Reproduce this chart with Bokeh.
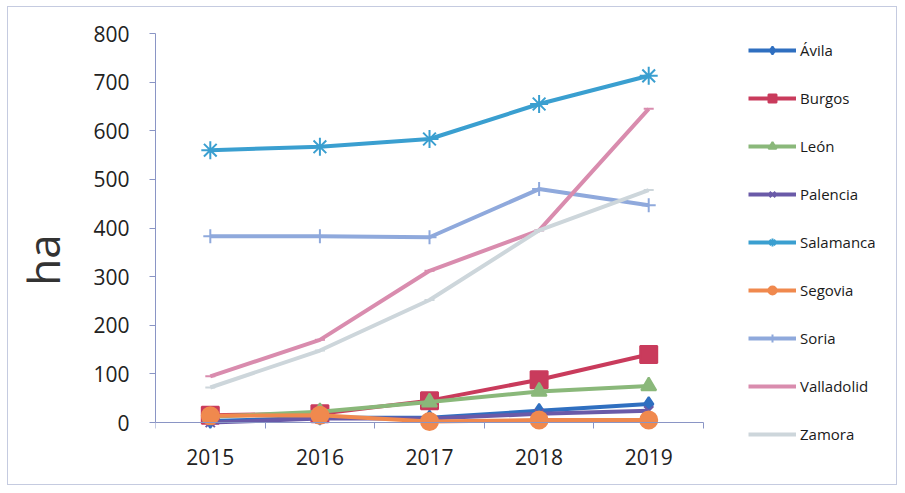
from bokeh.plotting import figure
from bokeh.models import Legend, LegendItem, FixedTicker
from bokeh.embed import file_html
from bokeh.resources import INLINE

years = ["2015", "2016", "2017", "2018", "2019"]
provinces = ["Ávila", "Burgos", "León", "Palencia", "Salamanca",
             "Segovia", "Soria", "Valladolid", "Zamora"]
avila = [3, 10, 10, 24, 38]
burgos = [15, 18, 45, 88, 140]
leon = [12, 22, 42, 64, 75]
palencia = [0, 8, 8, 18, 24]
salamanca = [560, 567, 583, 655, 713]
segovia = [14, 15, 2, 5, 5]
soria = [383, 383, 381, 480, 447]
valladolid = [95, 170, 312, 395, 645]
zamora = [72, 148, 252, 395, 478]
series = [avila, burgos, leon, palencia, salamanca, segovia, soria, valladolid, zamora]

colors = ["#2f6fc0", "#c93b5c", "#8ab87a", "#6a5aa8", "#3a9fd0",
          "#f0894e", "#8fa9dc", "#d98cae", "#cdd6db"]
markers = ["diamond", "square", "triangle", "x", "asterisk",
           "circle", "cross", "dash", "dash"]
msizes = [14, 17, 15, 13, 18, 17, 14, 10, 10]

xs = [i + 1 for i in range(len(years))]

p = figure(width=890, height=479, x_range=(0.5, 7.279), y_range=(-131.6, 800),
           output_backend="svg", toolbar_location=None,
           min_border_left=147, min_border_right=0,
           min_border_top=26, min_border_bottom=0)
p.xgrid.visible = False
p.ygrid.visible = False
p.outline_line_color = None
p.background_fill_color = "white"
p.border_fill_color = "white"

FONT = "Open Sans"
AX = "#8a95c5"

p.xaxis.fixed_location = 0
p.xaxis.bounds = (0.5, 5.5)
p.xaxis.ticker = FixedTicker(ticks=xs, minor_ticks=[x - 0.5 for x in xs] + [xs[-1] + 0.5])
p.xaxis.major_label_overrides = {x: y for x, y in zip(xs, years)}
p.xaxis.major_tick_out = 0
p.xaxis.major_tick_in = 0
p.xaxis.minor_tick_out = 6
p.xaxis.minor_tick_in = 0
p.xaxis.minor_tick_line_color = AX
p.xaxis.axis_line_color = AX
p.xaxis.major_label_standoff = 20

p.yaxis.bounds = (0, 800)
p.yaxis.ticker = FixedTicker(ticks=list(range(0, 801, 100)))
p.yaxis.major_tick_out = 6
p.yaxis.major_tick_in = 0
p.yaxis.minor_tick_line_color = None
p.yaxis.major_tick_line_color = AX
p.yaxis.axis_line_color = AX
p.yaxis.major_label_standoff = 20
p.yaxis.axis_label = "ha"
p.yaxis.axis_label_text_font = FONT
p.yaxis.axis_label_text_font_size = "44px"
p.yaxis.axis_label_text_font_style = "normal"
p.yaxis.axis_label_text_color = "#333333"
p.yaxis.axis_label_standoff = 17

for ax in (p.xaxis, p.yaxis):
    ax.major_label_text_font = FONT
    ax.major_label_text_font_size = "21px"
    ax.major_label_text_color = "#222222"

items = []
for name, vals, c, m, s in zip(provinces, series, colors, markers, msizes):
    lr = p.line(xs, vals, line_color=c, line_width=4)
    sr = p.scatter(xs, vals, marker=m, size=s, fill_color=c, line_color=c, line_width=2)
    items.append(LegendItem(label=name, renderers=[lr, sr]))

legend = Legend(items=items, location=(593, 42))
legend.glyph_width = 48
legend.glyph_height = 20
legend.label_height = 20
legend.spacing = 28
legend.padding = 5
legend.margin = 0
legend.label_standoff = 4
legend.label_text_font = FONT
legend.label_text_font_size = "15px"
legend.label_text_color = "#1a1a1a"
legend.border_line_color = None
legend.background_fill_alpha = 0
p.add_layout(legend, "center")

p.styles = {"border": "1px solid #c5cbe0", "margin-left": "7px", "margin-top": "6px"}

open("out.html", "w").write(file_html(p, INLINE))
